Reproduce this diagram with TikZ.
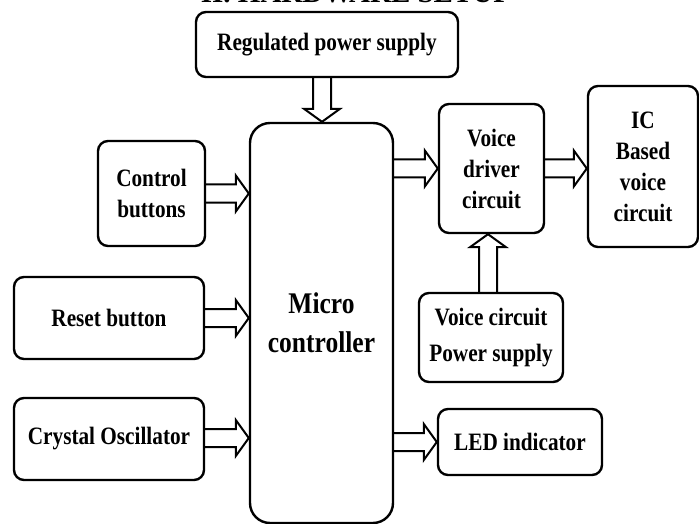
\documentclass[tikz,border=0pt]{standalone}
\usepackage{fontspec}
\setmainfont[FakeStretch=0.85]{Liberation Serif}
\newfontfamily\titlefont{Liberation Serif}
\usetikzlibrary{calc}
\newcommand{\blockarr}[2]{%
  \coordinate (hb) at ($(#2)!13pt!(#1)$);
  \draw[blkarrow] ($(#1)!9pt!90:(#2)$) -- ($(hb)!9pt!90:(#2)$) -- ($(hb)!18pt!90:(#2)$) -- (#2)
    -- ($(hb)!18pt!-90:(#2)$) -- ($(hb)!9pt!-90:(#2)$) -- ($(#1)!9pt!-90:(#2)$);}
\begin{document}
\begin{tikzpicture}[x=1pt,y=-1pt,
  box/.style={draw, line width=2.4pt, rounded corners=10pt, align=center,
    font=\bfseries\fontsize{25}{31}\selectfont, inner sep=0pt},
  blkarrow/.style={line width=2pt, line join=miter}]
\useasboundingbox (0,0) rectangle (699,524);
\begin{scope}
\clip (0,0) rectangle (699,524);
\node[anchor=base, inner sep=0pt, font=\titlefont\bfseries\fontsize{29}{29}\selectfont] (title) at (356,3) {II.\ HARDWARE SETUP};

\node[box, minimum width=262pt, minimum height=65pt] (rps) at (327,44.5) {Regulated power supply};
\node[box, rounded corners=20pt, minimum width=143pt, minimum height=400pt, font=\bfseries\fontsize{30}{39}\selectfont] (mc) at (321.5,323) {Micro\\controller};
\node[box, minimum width=107pt, minimum height=105pt] (cb) at (151.5,193.5) {Control\\buttons};
\node[box, minimum width=190pt, minimum height=82pt] (rb) at (109,318) {Reset button};
\node[box, minimum width=190pt, minimum height=82pt] (co) at (109,439) {Crystal Oscillator};
\node[box, minimum width=105pt, minimum height=129pt] (vd) at (491.5,168.5) {Voice\\driver\\circuit};
\node[box, minimum width=110pt, minimum height=161pt] (ic) at (643,166.5) {IC\\Based\\voice\\circuit};
\node[box, minimum width=144pt, minimum height=89pt, font=\bfseries\fontsize{25}{36}\selectfont] (vps) at (491,337.5) {Voice circuit\\Power supply};
\node[box, minimum width=164pt, minimum height=66pt] (led) at (520,442) {LED indicator};

\coordinate (t1) at (mc.west |- cb.east);
\blockarr{cb.east}{t1}
\coordinate (t2) at (mc.west |- rb.east);
\blockarr{rb.east}{t2}
\coordinate (s3) at ($(co.east)+(0,-1)$);
\coordinate (t3) at (mc.west |- s3);
\blockarr{s3}{t3}
\coordinate (s4) at (mc.east |- vd.west);
\blockarr{s4}{vd.west}
\coordinate (t5) at (ic.west |- vd.east);
\blockarr{vd.east}{t5}
\coordinate (s6) at (mc.east |- led.west);
\blockarr{s6}{led.west}
\coordinate (s7) at ($(rps.south)+(-5,0)$);
\coordinate (t7) at (s7 |- mc.north);
\blockarr{s7}{t7}
\coordinate (s8) at ($(vps.north)+(-3,0)$);
\coordinate (t8) at (s8 |- vd.south);
\blockarr{s8}{t8}
\end{scope}
\end{tikzpicture}
\end{document}
